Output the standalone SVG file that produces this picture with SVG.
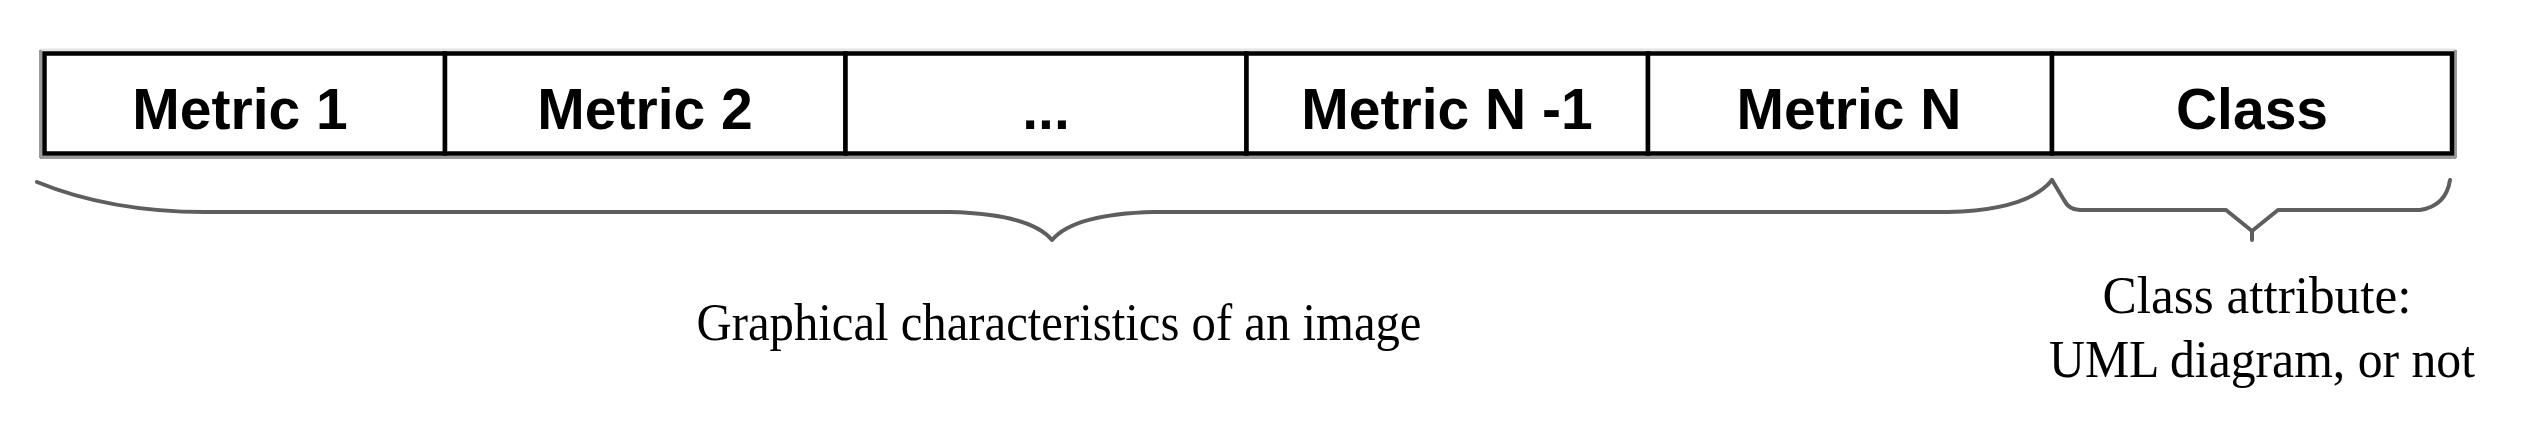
<svg xmlns="http://www.w3.org/2000/svg" width="2524" height="430" viewBox="0 0 2524 430">
<style>
.cell{fill:#ffffff;stroke:#000000;stroke-width:4.5}
.hd{font-family:"Liberation Sans",Arial,sans-serif;font-weight:bold;font-size:57px;fill:#000;text-anchor:middle}
.lb{font-family:"Liberation Serif","Times New Roman",serif;font-size:52px;fill:#000;text-anchor:middle}
.brace{fill:none;stroke:#5e5e5e;stroke-width:4;stroke-linejoin:round;stroke-linecap:round}
.shade{stroke:#9a9a9a;stroke-width:3}
.light{stroke:#e4e4e4;stroke-width:3}
</style>
<rect x="0" y="0" width="2524" height="430" fill="#ffffff"/>
<g id="shadow">
<line class="light" x1="40" y1="50" x2="2456" y2="50"/>
<line class="light" x1="48" y1="58.5" x2="2448" y2="58.5"/>
<line class="light" x1="48" y1="148.5" x2="2448" y2="148.5"/>
<line class="shade" x1="40" y1="157.5" x2="2456" y2="157.5"/>
<line class="shade" x1="40.5" y1="50" x2="40.5" y2="158"/>
<line class="shade" x1="2455.5" y1="50" x2="2455.5" y2="158"/>
</g>
<g id="cell-metric1">
<rect class="cell" x="44.5" y="53.5" width="400.5" height="100"/>
<text class="hd" x="240" y="129">Metric 1</text>
</g>
<g id="cell-metric2">
<rect class="cell" x="445" y="53.5" width="400.5" height="100"/>
<text class="hd" x="645" y="129">Metric 2</text>
</g>
<g id="cell-ellipsis">
<rect class="cell" x="845.5" y="53.5" width="401" height="100"/>
<text class="hd" x="1046" y="129">...</text>
</g>
<g id="cell-metricN-1">
<rect class="cell" x="1246.5" y="53.5" width="401.5" height="100"/>
<text class="hd" x="1447" y="129">Metric N -1</text>
</g>
<g id="cell-metricN">
<rect class="cell" x="1648" y="53.5" width="404" height="100"/>
<text class="hd" x="1849" y="129">Metric N</text>
</g>
<g id="cell-class">
<rect class="cell" x="2052" y="53.5" width="400" height="100"/>
<text class="hd" x="2252" y="129">Class</text>
</g>
<g id="connectors">
<path class="brace" d="M37,182 Q110,212 205,212 L950,212 Q1030,214 1052,240 Q1074,214 1154,212 L1948,212 Q2028,210 2052,180"/>
<path class="brace" d="M2052,180 L2064,200 Q2069,210 2080,210 L2226,210 L2252,231 L2252,240 M2252,231 L2278,210 L2420,210 Q2446,206 2450,180"/>
</g>
<g id="labels">
<text class="lb" x="1059" y="340" textLength="725" lengthAdjust="spacingAndGlyphs">Graphical characteristics of an image</text>
<text class="lb" x="2257" y="313" textLength="309" lengthAdjust="spacingAndGlyphs">Class attribute:</text>
<text class="lb" x="2262" y="377" textLength="426" lengthAdjust="spacingAndGlyphs">UML diagram, or not</text>
</g>
</svg>
